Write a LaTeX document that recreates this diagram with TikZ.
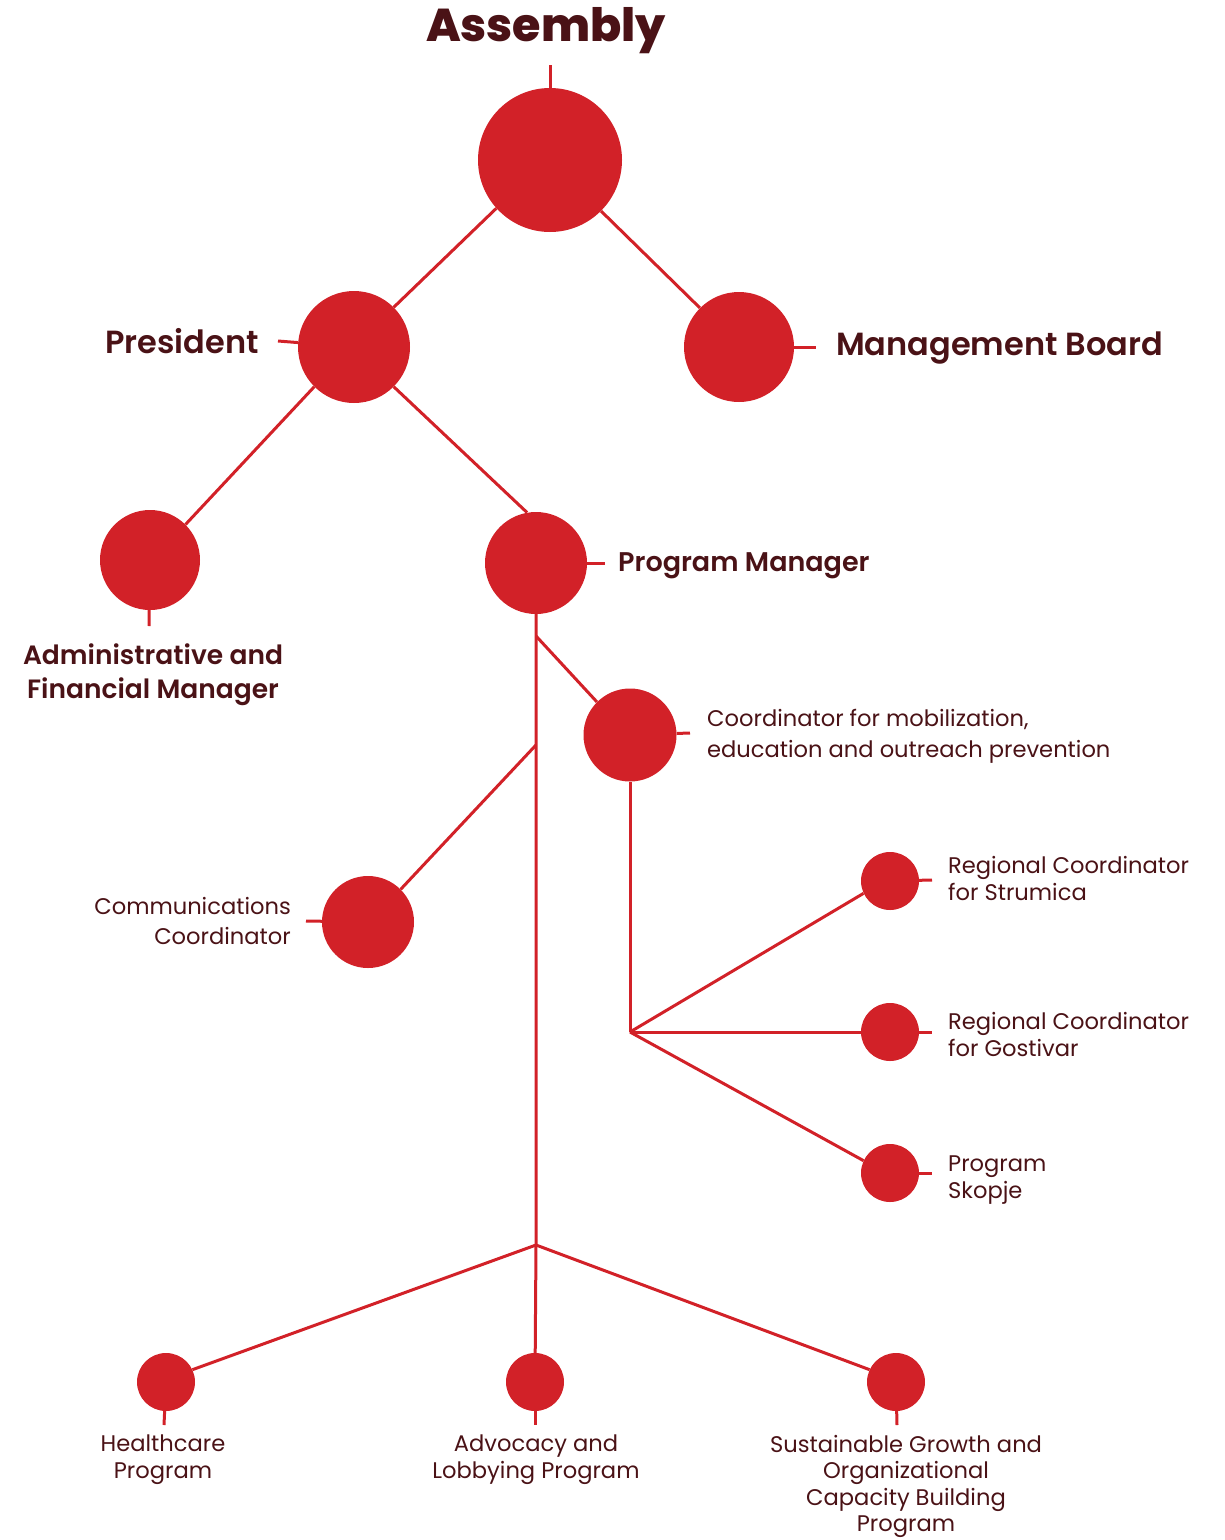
\documentclass[tikz,border=0pt]{standalone}
\usepackage{fontspec}
\setmainfont{Poppins}
\IfFontExistsTF{Poppins SemiBold}{\newfontfamily\semib{Poppins SemiBold}}{\newcommand\semib{\bfseries}}
\IfFontExistsTF{Poppins ExtraBold}{\newfontfamily\xbold{Poppins ExtraBold}}{\newcommand\xbold{\bfseries}}
\usetikzlibrary{backgrounds}
\definecolor{cred}{HTML}{D22128}
\definecolor{ctext}{HTML}{4A1216}
\begin{document}
\begin{tikzpicture}[x=1pt,y=-1pt,
  dot/.style={circle, fill=cred, inner sep=0pt, minimum size=#1},
  conn/.style={draw=cred, line width=3pt},
  hd/.style={text=ctext, inner sep=0pt, font=\semib\fontsize{#1}{#1}\selectfont},
  lblm/.style 2 args={text=ctext, inner sep=0pt, align=#2, font=\fontsize{22.6}{#1}\selectfont},
  hdm/.style 2 args={text=ctext, inner sep=0pt, align=#2, font=\semib\fontsize{26.5}{#1}\selectfont}]
\useasboundingbox (0,0) rectangle (1224,1540);
% circles
\node[dot=144] (asm) at (550,160) {};
\node[dot=112] (pres) at (354,347) {};
\node[dot=110] (mb) at (739,347) {};
\node[dot=100] (adm) at (150,560) {};
\node[dot=102] (pm) at (536,563) {};
\node[dot=93] (coord) at (630,735) {};
\node[dot=92] (comm) at (368,922) {};
\node[dot=58] (str) at (890,881) {};
\node[dot=58] (gos) at (890,1032) {};
\node[dot=58] (sko) at (890,1173) {};
\node[dot=58] (hc) at (166,1382) {};
\node[dot=58] (adv) at (535,1382) {};
\node[dot=58] (sus) at (896,1382) {};
% junctions
\coordinate (j1) at (536,636);
\coordinate (j2) at (536,745);
\coordinate (j3) at (630,1032);
\coordinate (j4) at (536,1245);
% tick ends
\coordinate (tasm) at (550,65);
\coordinate (tpres) at (278,341);
\coordinate (tmb) at (816,347);
\coordinate (tadm) at (149,626);
\coordinate (tpm) at (605,563);
\coordinate (tcoord) at (690,733);
\coordinate (tcomm) at (306,921);
\coordinate (tstr) at (932,880);
\coordinate (tgos) at (932,1032);
\coordinate (tsko) at (932,1173);
\coordinate (thc) at (164,1425);
\coordinate (tadv) at (535,1425);
\coordinate (tsus) at (897,1425);
\begin{pgfonlayer}{background}
\draw[conn] (asm) -- (tasm);
\draw[conn] (pres) -- (tpres);
\draw[conn] (mb) -- (tmb);
\draw[conn] (adm) -- (tadm);
\draw[conn] (pm) -- (tpm);
\draw[conn] (coord) -- (tcoord);
\draw[conn] (comm) -- (tcomm);
\draw[conn] (str) -- (tstr);
\draw[conn] (gos) -- (tgos);
\draw[conn] (sko) -- (tsko);
\draw[conn] (hc) -- (thc);
\draw[conn] (adv) -- (tadv);
\draw[conn] (sus) -- (tsus);
\draw[conn] (asm.222) -- (pres.45);
\draw[conn] (asm.315) -- (mb.135);
\draw[conn] (pres.225) -- (adm.45);
\draw[conn] (pres.315) -- (pm.100);
\draw[conn] (pm) -- (j1) -- (j2) -- (j4) -- (adv);
\draw[conn] (j1) -- (coord.135);
\draw[conn] (j2) -- (comm.45);
\draw[conn] (coord) -- (j3);
\draw[conn] (j3) -- (str.205);
\draw[conn] (j3) -- (gos);
\draw[conn] (j3) -- (sko.155);
\draw[conn] (j4) -- (hc.25);
\draw[conn] (j4) -- (sus.155);
\end{pgfonlayer}
% labels
\node[text=ctext, inner sep=0pt, font=\xbold\fontsize{46}{46}\selectfont] (tAsm) at (546,31) {Assembly};
\node[hd=32, anchor=east] (tPres) at (259,341) {President};
\node[hd=32, anchor=west] (tMb) at (836,348) {Management Board};
\node[hd=27, anchor=west] (tPm) at (618,566) {Program Manager};
\node[hdm={34}{center}] (tAdm) at (153,675) {Administrative and\\Financial Manager};
\node[lblm={31}{left}, anchor=west] (tCoord) at (707,736) {Coordinator for mobilization,\\education and outreach prevention};
\node[lblm={30}{right}, anchor=east] (tComm) at (291,921) {Communications\\Coordinator};
\node[lblm={27}{left}, anchor=west] (tStr) at (948,878) {Regional Coordinator\\for Strumica};
\node[lblm={27}{left}, anchor=west] (tGos) at (948,1034) {Regional Coordinator\\for Gostivar};
\node[lblm={27}{left}, anchor=west] (tSko) at (948,1180) {Program\\Skopje};
\node[lblm={26.5}{center}, anchor=north] (tHc) at (163,1435) {Healthcare\\Program};
\node[lblm={26.5}{center}, anchor=north] (tAdv) at (536,1435) {Advocacy and\\Lobbying Program};
\node[lblm={26.5}{center}, anchor=north] (tSus) at (906,1435) {Sustainable Growth and\\Organizational\\Capacity Building\\Program};
\end{tikzpicture}
\end{document}
